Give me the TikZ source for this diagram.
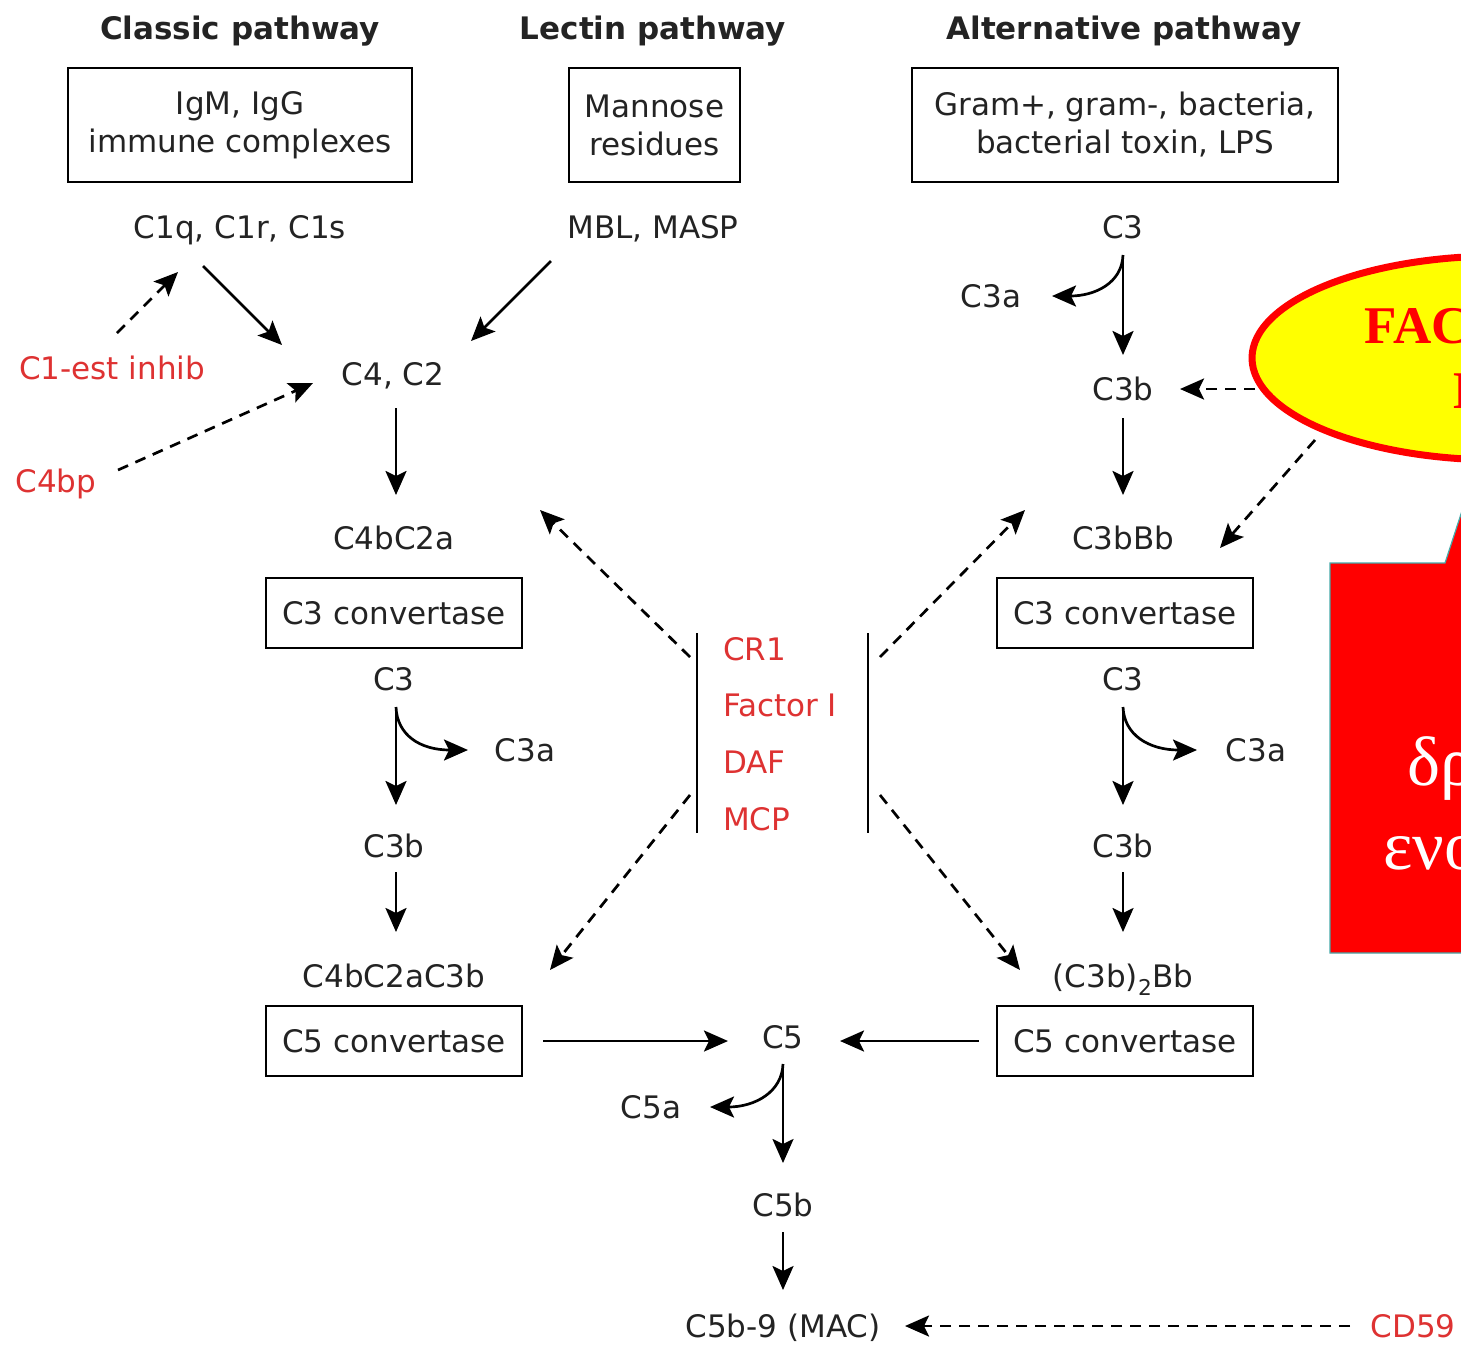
\documentclass[tikz,border=0pt]{standalone}
\usepackage{fontspec}
\setmainfont{DejaVu Sans}
\newfontfamily\serifgr{Liberation Serif}
\usetikzlibrary{arrows.meta,calc,shapes.geometric}
\definecolor{tc}{RGB}{35,35,35}
\definecolor{rc}{RGB}{222,50,50}
\definecolor{pure}{RGB}{255,0,0}
\definecolor{yel}{RGB}{255,255,0}
\definecolor{tealedge}{RGB}{70,170,170}
\begin{document}
\begin{tikzpicture}[x=1pt,y=-1pt,
  lbl/.style={font=\fontsize{31}{38}\selectfont, text=tc, inner sep=0pt, text height=23pt, text depth=0pt},
  rlbl/.style={lbl, text=rc},
  ttl/.style={font=\fontsize{31}{38}\selectfont\bfseries, text=tc, inner sep=0pt, text height=23pt, text depth=0pt},
  bx/.style={draw=black, line width=2.5pt, font=\fontsize{31}{38}\selectfont, text=tc, align=center, inner sep=0pt},
  arr/.style={draw=black, line width=2.7pt, -{Stealth[length=24pt,width=21pt,inset=5pt]}},
  darr/.style={arr, dash pattern=on 11pt off 8pt}]
\useasboundingbox (0,0) rectangle (1461,1345);
\clip (0,0) rectangle (1461,1345);
\fill[white] (0,0) rectangle (1461,1345);

% titles
\node[ttl] (tCl) at (240,28) {Classic pathway};
\node[ttl] (tLe) at (653,28) {Lectin pathway};
\node[ttl] (tAl) at (1124,28) {Alternative pathway};

% top boxes
\node[bx, minimum width=344pt, minimum height=114pt] (box1) at (240,125) {IgM, IgG\\immune complexes};
\node[bx, minimum width=171pt, minimum height=114pt] (box2) at (654.5,125) {Mannose\\residues};
\node[bx, minimum width=426pt, minimum height=114pt] (box3) at (1125,125) {Gram+, gram-, bacteria,\\bacterial toxin, LPS};

% labels
\node[lbl] (c1q) at (240,227) {C1q, C1r, C1s};
\node[lbl] (mbl) at (653,227) {MBL, MASP};
\node[lbl] (c3A) at (1123,227) {C3};
\node[lbl] (c3aA) at (991,296) {C3a};
\node[lbl] (c3bA) at (1123,389) {C3b};
\node[rlbl] (c1est) at (112,368) {C1-est inhib};
\node[lbl] (c4c2) at (393,374) {C4, C2};
\node[rlbl] (c4bp) at (56,481) {C4bp};
\node[lbl] (c4bc2a) at (394,538) {C4bC2a};
\node[lbl] (c3bbb) at (1123,538) {C3bBb};
\node[bx, minimum width=256pt, minimum height=70pt] (convL3) at (394,613) {C3 convertase};
\node[bx, minimum width=256pt, minimum height=70pt] (convR3) at (1125,613) {C3 convertase};
\node[lbl] (c3L) at (394,679) {C3};
\node[lbl] (c3R) at (1123,679) {C3};
\node[lbl] (c3aL) at (525,750) {C3a};
\node[lbl] (c3aR) at (1256,750) {C3a};
\node[lbl] (c3bL) at (394,846) {C3b};
\node[lbl] (c3bR) at (1123,846) {C3b};
\node[lbl] (c4c2c3b) at (394,976) {C4bC2aC3b};
\node[lbl] (c3b2bb) at (1123,976) {(C3b)\textsubscript{2}Bb};
\node[bx, minimum width=256pt, minimum height=70pt] (convL5) at (394,1041) {C5 convertase};
\node[bx, minimum width=256pt, minimum height=70pt] (convR5) at (1125,1041) {C5 convertase};
\node[lbl] (c5) at (783,1037) {C5};
\node[lbl] (c5a) at (651,1107) {C5a};
\node[lbl] (c5b) at (783,1205) {C5b};
\node[lbl] (mac) at (783,1326) {C5b-9 (MAC)};
\node[rlbl] (cd59) at (1413,1326) {CD59};

% middle regulators
\node[rlbl, anchor=west] (cr1) at (723,649) {CR1};
\node[rlbl, anchor=west] (fI) at (723,705) {Factor I};
\node[rlbl, anchor=west] (daf) at (723,762) {DAF};
\node[rlbl, anchor=west] (mcp) at (723,819) {MCP};
\coordinate (bLt) at (697,633);
\coordinate (bLb) at (697,833);
\coordinate (bRt) at (868,633);
\coordinate (bRb) at (868,833);
\draw[line width=2.7pt] (bLt) -- (bLb);
\draw[line width=2.7pt] (bRt) -- (bRb);

% red callout and ellipse
\path[fill=pure, draw=tealedge, line width=1.2pt] (1330,953) -- (1330,563) -- (1445,563) -- (1478,462) -- (1500,563) -- (1600,563) -- (1600,953) -- cycle;
\node[anchor=base west, font=\serifgr\fontsize{70}{76}\selectfont, text=white, inner sep=0pt] (gr1) at (1407,785) {δρ};
\node[anchor=base west, font=\serifgr\fontsize{70}{76}\selectfont, text=white, inner sep=0pt] (gr2) at (1383,869) {ενο};
\node[ellipse, draw=pure, fill=yel, line width=7pt, minimum width=496pt, minimum height=204pt] (fh) at (1500,358) {};
\node[font=\serifgr\bfseries\fontsize{53}{65}\selectfont, text=pure, align=center, inner sep=0pt] (fhtxt) at (1474,358) {FACTOR\\H};

% classic / lectin arrows
\draw[arr] ($(c1q)+(-37,39)$) -- ($(c4c2)+(-111,-29)$);
\draw[arr] ($(mbl)+(-102,34)$) -- ($(c4c2)+(78,-33)$);
\draw[darr] ($(c1est)+(5,-35)$) -- ($(c1q)+(-62,45)$);
\draw[darr] ($(c4bp)+(62,-11)$) -- ($(c4c2)+(-80,9)$);
\draw[arr] ($(c4c2)+(3,34)$) -- ($(c4bc2a)+(2,-43)$);
\draw[arr] ($(c3L)+(2,28)$) -- ($(c3bL)+(2,-41)$);
\draw[arr] ($(c3L)+(2,28)$) .. controls ($(c3L)+(3,56)$) and ($(c3L)+(26,71)$) .. ($(c3aL)+(-57,0)$);
\draw[arr] ($(c3bL)+(2,26)$) -- ($(c4c2c3b)+(2,-44)$);

% alternative arrows
\draw[arr] ($(c3A)+(0,28)$) -- ($(c3bA)+(0,-34)$);
\draw[arr] ($(c3A)+(0,28)$) .. controls ($(c3A)+(-1,56)$) and ($(c3A)+(-28,69)$) .. ($(c3aA)+(61,0)$);
\draw[arr] ($(c3bA)+(0,29)$) -- ($(c3bbb)+(0,-43)$);
\draw[darr] ($(fh.center)+(-245,31)$) -- ($(c3bA)+(57,0)$);
\draw[darr] ($(fh.center)+(-185,82)$) -- ($(c3bbb)+(97,10)$);
\draw[arr] ($(c3R)+(0,28)$) -- ($(c3bR)+(0,-41)$);
\draw[arr] ($(c3R)+(0,28)$) .. controls ($(c3R)+(1,56)$) and ($(c3R)+(26,71)$) .. ($(c3aR)+(-59,0)$);
\draw[arr] ($(c3bR)+(0,26)$) -- ($(c3b2bb)+(0,-44)$);

% regulators dashed
\draw[darr] ($(bLt)+(-7,24)$) -- ($(c4bc2a)+(146,-28)$);
\draw[darr] ($(bRt)+(12,24)$) -- ($(c3bbb)+(-98,-28)$);
\draw[darr] ($(bLb)+(-7,-38)$) -- ($(c4c2c3b)+(156,-6)$);
\draw[darr] ($(bRb)+(12,-38)$) -- ($(c3b2bb)+(-103,-6)$);

% C5
\draw[arr] ($(convL5.east)+(20,0)$) -- ($(c5)+(-55,4)$);
\draw[arr] ($(convR5.west)+(-17,0)$) -- ($(c5)+(57,4)$);
\draw[arr] ($(c5)+(0,27)$) -- ($(c5b)+(0,-42)$);
\draw[arr] ($(c5)+(0,27)$) .. controls ($(c5)+(-1,55)$) and ($(c5)+(-28,70)$) .. ($(c5a)+(59,0)$);
\draw[arr] ($(c5b)+(0,27)$) -- ($(mac)+(0,-36)$);
\draw[darr] ($(cd59)+(-63,0)$) -- ($(mac)+(122,0)$);
\end{tikzpicture}
\end{document}
